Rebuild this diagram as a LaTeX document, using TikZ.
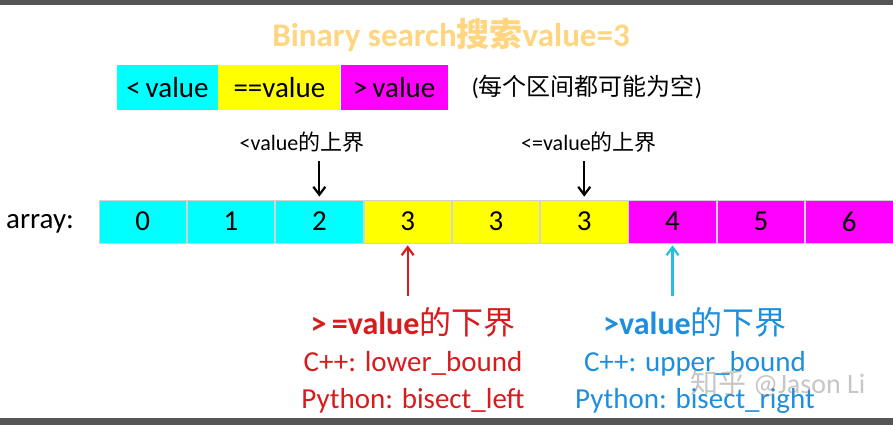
\documentclass[tikz,border=0pt]{standalone}
\usepackage{fontspec}
\setmainfont{Carlito}
\newfontfamily\cjk{Noto Sans CJK SC}
\usetikzlibrary{arrows.meta,positioning}
\definecolor{cellcyan}{RGB}{0,255,255}
\definecolor{cellyellow}{RGB}{255,255,0}
\definecolor{cellmagenta}{RGB}{255,0,255}
\definecolor{titleorange}{RGB}{255,213,128}
\definecolor{lowred}{RGB}{214,28,28}
\definecolor{upblue}{RGB}{30,142,222}
\definecolor{arrowcyan}{RGB}{40,190,228}
\definecolor{framegray}{RGB}{85,85,85}

\begin{document}
\begin{tikzpicture}[>={Straight Barb[length=8pt,width=12pt]},x=1pt,y=1pt,
 node distance=0pt,
 cell/.style={draw=gray!35,line width=0.8pt,minimum width=87.5pt,minimum height=43pt,
   inner sep=0pt,font=\fontsize{29}{29}\selectfont},
 key/.style={minimum height=45pt,inner sep=0pt,font=\fontsize{29}{29}\selectfont},
 note/.style={font=\fontsize{22}{22}\selectfont},
 bound/.style={font=\bfseries\fontsize{32}{32}\selectfont},
 api/.style={font=\fontsize{29}{29}\selectfont}]
\useasboundingbox (0,0) rectangle (893,-425);
\fill[framegray] (0,0) rectangle (893,-5);
\fill[framegray] (0,-418) rectangle (893,-425);

% title and legend
\node[text=titleorange,font=\bfseries\fontsize{33}{33}\selectfont] (title) at (451,-35)
  {Binary search{\cjk 搜索}value=3};
\node[key,fill=cellcyan,minimum width=101pt] (less) at (167.5,-87.5) {<\,value};
\node[key,fill=cellyellow,minimum width=122pt,right=of less] (equal) {==value};
\node[key,fill=cellmagenta,minimum width=107pt,right=of equal] (more) {>\,value};
\node[font=\fontsize{24}{24}\selectfont,right=20pt of more] (empty) {({\cjk 每个区间都可能为空})};

% the array
\node[font=\fontsize{29}{29}\selectfont] (arr) at (40,-224) {array:};
\node[cell,fill=cellcyan] (c0) at (142.75,-221.5) {0};
\node[cell,fill=cellcyan,right=of c0] (c1) {1};
\node[cell,fill=cellcyan,right=of c1] (c2) {2};
\node[cell,fill=cellyellow,right=of c2] (c3) {3};
\node[cell,fill=cellyellow,right=of c3] (c4) {3};
\node[cell,fill=cellyellow,right=of c4] (c5) {3};
\node[cell,fill=cellmagenta,right=of c5] (c6) {4};
\node[cell,fill=cellmagenta,right=of c6] (c7) {5};
\node[cell,fill=cellmagenta,right=of c7] (c8) {6};

% upper bounds
\node[note] (ltup) at (302,-142) {<value{\cjk 的上界}};
\node[note] (leup) at (589,-142) {<=value{\cjk 的上界}};
\draw[->,line width=2.2pt,shorten <=5pt,shorten >=3pt] (ltup.south -| c2) -- (c2.north);
\draw[->,line width=2.2pt,shorten <=5pt,shorten >=3pt] (leup.south -| c5) -- (c5.north);

% lower bounds
\node[bound,text=lowred] (lo) at (413,-322) {>\,=value{\mdseries\cjk 的下界}};
\node[api,text=lowred,below=7pt of lo] (locpp) {C++: lower\_bound};
\node[api,text=lowred,below=6pt of locpp] (lopy) {Python: bisect\_left};
\node[bound,text=upblue] (hi) at (695,-322) {>value{\mdseries\cjk 的下界}};
\node[api,text=upblue,below=7pt of hi] (hicpp) {C++: upper\_bound};
\node[api,text=upblue,below=6pt of hicpp] (hipy) {Python: bisect\_right};
\draw[->,lowred,line width=2.2pt,shorten <=8pt,shorten >=2pt] (lo.north -| c3) -- (c3.south);
\draw[->,arrowcyan,line width=2.2pt,shorten <=8pt,shorten >=2pt] (hi.north -| c6) -- (c6.south);

\node[text=gray,opacity=0.45,font=\fontsize{28}{28}\selectfont] (mark) at (778,-383)
  {{\cjk 知乎} @Jason Li};
\end{tikzpicture}
\end{document}
